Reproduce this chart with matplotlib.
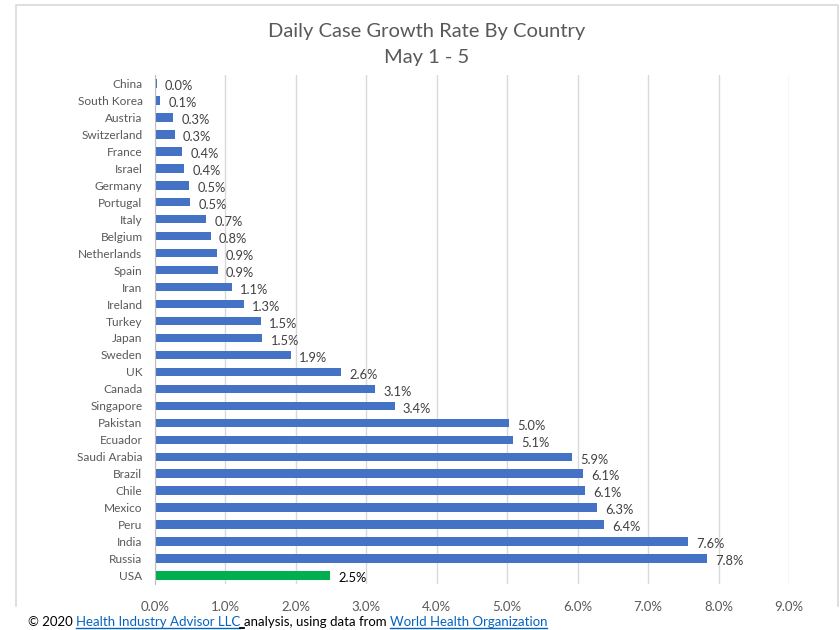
import matplotlib
matplotlib.use("Agg")
import matplotlib.pyplot as plt
from matplotlib.lines import Line2D

countries = ["China", "South Korea", "Austria", "Switzerland", "France", "Israel",
             "Germany", "Portugal", "Italy", "Belgium", "Netherlands", "Spain",
             "Iran", "Ireland", "Turkey", "Japan", "Sweden", "UK", "Canada",
             "Singapore", "Pakistan", "Ecuador", "Saudi Arabia", "Brazil", "Chile",
             "Mexico", "Peru", "India", "Russia", "USA"]
growth = [0.024, 0.07, 0.26, 0.28, 0.39, 0.41, 0.48, 0.50, 0.73, 0.79, 0.88, 0.89,
          1.09, 1.26, 1.50, 1.52, 1.93, 2.64, 3.12, 3.40, 5.03, 5.08, 5.92, 6.08,
          6.10, 6.28, 6.37, 7.56, 7.84, 2.48]
labels = ["0.0%", "0.1%", "0.3%", "0.3%", "0.4%", "0.4%", "0.5%", "0.5%", "0.7%",
          "0.8%", "0.9%", "0.9%", "1.1%", "1.3%", "1.5%", "1.5%", "1.9%", "2.6%",
          "3.1%", "3.4%", "5.0%", "5.1%", "5.9%", "6.1%", "6.1%", "6.3%", "6.4%",
          "7.6%", "7.8%", "2.5%"]
xticks = [0, 1, 2, 3, 4, 5, 6, 7, 8, 9]
xticklabels = ["0.0%", "1.0%", "2.0%", "3.0%", "4.0%", "5.0%", "6.0%", "7.0%", "8.0%", "9.0%"]
highlight = "USA"

plt.rcParams['font.family'] = ['Lato', 'DejaVu Sans']

W, H = 840, 630
fig = plt.figure(figsize=(8.4, 6.3), dpi=100)

def fx(px):
    return px / W

def fy(py):
    return 1 - py / H

# chart border (left, top, right)
fig.add_artist(Line2D([fx(16), fx(16), fx(838), fx(838)],
                      [fy(606), fy(5), fy(5), fy(606)],
                      transform=fig.transFigure, color="#d9d9d9", linewidth=1.2))

ax = fig.add_axes([fx(155), fy(584), (789 - 155) / W, (584 - 75) / H])
ypos = list(range(len(countries)))
colors = ["#00b050" if c == highlight else "#4472c4" for c in countries]
ax.barh(ypos, growth, height=0.5, color=colors, zorder=3)
ax.set_ylim(len(countries) - 0.5, -0.5)
ax.set_xlim(0, 9)
ax.set_yticks(ypos)
ax.set_yticklabels(countries, fontsize=8.6, color="#595959")
ax.set_xticks(xticks)
ax.set_xticklabels(xticklabels, fontsize=9.5, color="#595959")
ax.tick_params(axis="y", length=0, pad=9)
ax.tick_params(axis="x", length=0, pad=12)
ax.xaxis.grid(True, color="#d9d9d9", linewidth=1, zorder=0)
for s in ["top", "right", "bottom"]:
    ax.spines[s].set_visible(False)
ax.spines["left"].set_color("#bfbfbf")
ax.spines["left"].set_zorder(4)

for y, v, lab, c in zip(ypos, growth, labels, countries):
    ax.annotate(lab, xy=(v, y), xytext=(6, -2), textcoords="offset points",
                ha="left", va="center", fontsize=9.3,
                color="#000000" if c == highlight else "#404040")

fig.text(fx(427), fy(32), "Daily Case Growth Rate By Country", ha="center",
         va="center", fontsize=14.5, color="#595959")
fig.text(fx(427), fy(58), "May 1 - 5", ha="center", va="center",
         fontsize=14.5, color="#595959")

# footer with underlined link parts
renderer = fig.canvas.get_renderer()
fs = 9.5
yb = 626

def width_of(s):
    t = fig.text(0, 0, s, fontsize=fs)
    w = t.get_window_extent(renderer=renderer).width
    t.remove()
    return w

space_w = width_of("a a") - width_of("aa")

x = 28
t = fig.text(fx(x), fy(yb), "© 2020", ha="left", va="baseline", fontsize=fs, color="#000000")
x += t.get_window_extent(renderer=renderer).width + space_w
t = fig.text(fx(x), fy(yb), "Health Industry Advisor LLC", ha="left", va="baseline",
             fontsize=fs, color="#0563c1")
w = t.get_window_extent(renderer=renderer).width
fig.add_artist(Line2D([fx(x), fx(x + w)], [fy(yb + 2)] * 2,
                      transform=fig.transFigure, color="#0563c1", linewidth=1))
x += w
fig.add_artist(Line2D([fx(x), fx(x + space_w)], [fy(yb + 2)] * 2,
                      transform=fig.transFigure, color="#000000", linewidth=1.3))
x += space_w
t = fig.text(fx(x), fy(yb), "analysis, using data from", ha="left", va="baseline",
             fontsize=fs, color="#000000")
x += t.get_window_extent(renderer=renderer).width + space_w
t = fig.text(fx(x), fy(yb), "World Health Organization", ha="left", va="baseline",
             fontsize=fs, color="#0563c1")
w = t.get_window_extent(renderer=renderer).width
fig.add_artist(Line2D([fx(x), fx(x + w)], [fy(yb + 2)] * 2,
                      transform=fig.transFigure, color="#0563c1", linewidth=1))

fig.savefig("out.png", dpi=100)
